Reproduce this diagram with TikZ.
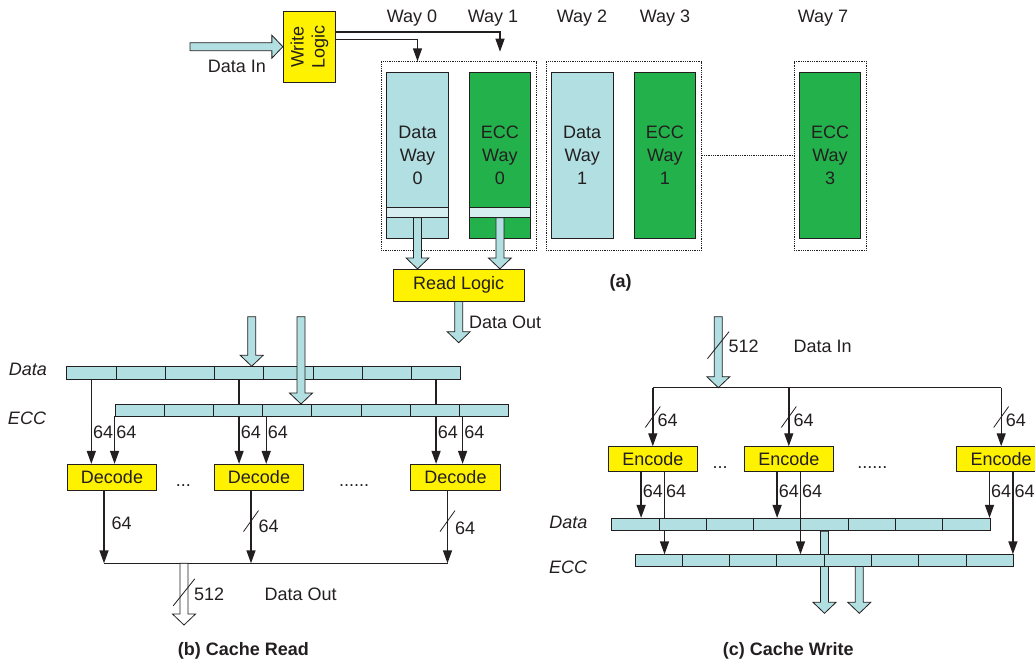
\documentclass[tikz,border=0pt]{standalone}
\usepackage{fontspec}
\setmainfont{Liberation Sans}
\usetikzlibrary{arrows.meta, positioning, calc}
\definecolor{cyanbar}{RGB}{178,223,225}
\definecolor{cyanlite}{RGB}{214,238,240}
\definecolor{greenecc}{RGB}{35,177,75}
\definecolor{yellowlogic}{RGB}{255,242,0}
\definecolor{linegray}{RGB}{35,31,32}

\newcommand{\fatdown}[3][cyanbar]{%
  \path[draw=linegray, fill=#1, line width=0.8pt, line join=miter] let \p1=(#2), \p2=(#3) in
    (\x1-4pt,\y1) -- (\x1-4pt,\y2+11pt) -- (\x1-11.5pt,\y2+11pt) -- (\x1,\y2)
    -- (\x1+11.5pt,\y2+11pt) -- (\x1+4pt,\y2+11pt) -- (\x1+4pt,\y1) -- cycle;}

\begin{document}
\begin{tikzpicture}[x=1pt, y=-1pt, font=\fontsize{18}{21}\selectfont, text=linegray,
    every node/.style={inner sep=1pt},
    waybox/.style={draw=linegray, densely dotted, line width=0.8pt, inner sep=0, minimum height=188.3pt},
    datarect/.style={draw=linegray, fill=cyanbar, line width=0.9pt, minimum width=61.6pt,
        minimum height=165.6pt, align=center, inner sep=0, font=\fontsize{18}{23}\selectfont},
    eccrect/.style={datarect, fill=greenecc},
    logic/.style={draw=linegray, fill=yellowlogic, line width=0.9pt, inner sep=0},
    decbox/.style={logic, minimum width=89.4pt, minimum height=25.7pt},
    cell/.style={draw=linegray, fill=cyanbar, line width=0.9pt, inner sep=0, minimum height=12.3pt},
    arr/.style={draw=linegray, line width=1.4pt, -{Triangle[length=13pt, width=9pt]}},
    wire/.style={draw=linegray, line width=1.2pt},
    lbl/.style={right, inner sep=1pt},
    itlbl/.style={font=\fontsize{18}{21}\selectfont\itshape},
    capt/.style={font=\fontsize{18}{21}\selectfont\bfseries},
    slashmark/.pic={\draw[-, line width=0.8pt, linegray] (-7.5,10.5) -- (7.5,-10.5);},
    bigslash/.pic={\draw[-, line width=0.8pt, linegray] (-10.8,13.5) -- (10.8,-13.5);}]
    \useasboundingbox (0,0) rectangle (1035,662);

    % (a)
    \node[waybox, minimum width=155.7pt] (bx1) at (458.85,155.85) {};
    \node[waybox, minimum width=155.7pt] (bx2) at (623.85,155.85) {};
    \node[waybox, minimum width=72.7pt] (bx3) at (830.35,155.85) {};
    \draw[draw=linegray, densely dotted, line width=0.8pt] (bx2.east) -- (bx3.west);
    \foreach \n/\x/\kind/\txt in {dw0/417.5/datarect/{Data\\Way\\0}, ew0/499.9/eccrect/{ECC\\Way\\0},
        dw1/582.2/datarect/{Data\\Way\\1}, ew1/664.9/eccrect/{ECC\\Way\\1}, ew3/830/eccrect/{ECC\\Way\\3}}
        \node[\kind] (\n) at (\x,155.5) {\txt};
    \node[cell, fill=cyanlite, minimum width=61.6pt, minimum height=10pt] (rs0) at (417.5,212.3) {};
    \node[cell, fill=cyanlite, minimum width=61.6pt, minimum height=10pt] (rs1) at (499.9,212.3) {};
    \foreach \x/\w in {412/0, 493/1, 582/2, 665/3, 823/7}
        \node (way\w) at (\x,18) {Way \w};

    \node[logic, minimum width=52.4pt, minimum height=70.6pt] (wl) at (309.5,47) {};
    \node[rotate=90, align=center, font=\fontsize{18}{21}\selectfont] (wltxt) at (wl.center) {Write\\Logic};
    \coordinate (dinsrc) at (190,46.7);
    \path[draw=linegray, fill=cyanbar, line width=0.8pt] let \p1=(dinsrc), \p2=(wl.west |- dinsrc) in
        (\x1,\y1+4pt) -- (\x2-11pt,\y1+4pt) -- (\x2-11pt,\y1+11.5pt) -- (\x2,\y1)
        -- (\x2-11pt,\y1-11.5pt) -- (\x2-11pt,\y1-4pt) -- (\x1,\y1-4pt) -- cycle;
    \node (dinlbl) at (237,66) {Data In};
    \coordinate (ew0in) at (500,51.7);
    \draw[arr] ([yshift=15pt]wl.east) -| (ew0in);
    \draw[arr] ([yshift=7.7pt]wl.east) -| (dw0.north |- bx1.north);

    \node[logic, minimum width=130.7pt, minimum height=31.7pt] (rl) at (458.7,285.2) {Read Logic};
    \fatdown{rs0.south}{rs0.south |- rl.north}
    \fatdown{rs1.south}{rs1.south |- rl.north}
    \coordinate (rlout) at (458.3,342.7);
    \fatdown{rl.south}{rl.south |- rlout}
    \node[anchor=west] (doutlbl) at (468,322) {Data Out};
    \node[capt] (capa) at (620.7,283) {(a)};

    % (b)
    \node[itlbl] (bdata) at (28,369) {Data};
    \node[itlbl] (becc) at (27,418) {ECC};
    \node[decbox] (dec1) at (112,477.2) {Decode};
    \node[decbox] (dec2) at (259,477.2) {Decode};
    \node[decbox] (dec3) at (455.5,477.2) {Decode};
    \node[anchor=base] (bdots1) at (183.3,486.5) {...};
    \node[anchor=base] (bdots2) at (354,486.5) {......};
    \foreach \i in {1,...,8} {
        \pgfmathsetmacro{\x}{66.7+(\i-0.5)*49.25}
        \node[cell, minimum width=49.25pt] (dd\i) at (\x,372.85) {};
    }
    \foreach \c/\d in {1/1, 4/2, 8/3}
        \draw[arr] (dd\c.south) -- node[lbl, pos=0.62] (bdl\d) {64} (dd\c.south |- dec\d.north);
    \coordinate (rdA) at (251.7,316.7);
    \coordinate (rdB) at (301,316.7);
    \coordinate (rdBend) at (301,404);
    \fatdown{rdA}{rdA |- dd4.north}
    \fatdown{rdB}{rdBend}
    \foreach \i in {1,...,8} {
        \pgfmathsetmacro{\x}{115+(\i-0.5)*49.22}
        \node[cell, minimum width=49.22pt, minimum height=12pt] (ee\i) at (\x,410) {};
    }
    \foreach \c/\s/\d in {1/0/1, 4/4/2, 8/3.5/3}
        \draw[arr] ([xshift=\s pt]ee\c.south west) -- node[lbl, pos=0.33] (bel\d) {64}
            ([xshift=\s pt]ee\c.south west |- dec\d.north);

    \coordinate (rbus) at (184,563.3);
    \coordinate (rbusout) at (184,625);
    \draw[arr] ([xshift=-8pt]dec1.south) -- node[lbl, pos=0.45, xshift=6pt] (bo1) {64} ([xshift=-8pt]dec1.south |- rbus);
    \draw[arr] ([xshift=-8pt]dec2.south) -- pic[pos=0.42]{slashmark} node[lbl, pos=0.49, xshift=6pt] (bo2) {64} ([xshift=-8pt]dec2.south |- rbus);
    \draw[arr] ([xshift=-8pt]dec3.south) -- pic[pos=0.42]{slashmark} node[lbl, pos=0.52, xshift=6pt] (bo3) {64} ([xshift=-8pt]dec3.south |- rbus);
    \draw[wire] ([xshift=-8pt]dec1.south |- rbus) -- ([xshift=-8pt]dec3.south |- rbus);
    \fatdown[white]{rbus}{rbusout}
    \path (rbus) -- pic[pos=0.47]{bigslash} node[lbl, pos=0.5, xshift=9pt] (b512) {512} (rbusout);
    \node (boutlbl) at (300.7,594) {Data Out};
    \node[capt] (capb) at (243.3,651) {(b) Cache Read};

    % (c)
    \node[itlbl] (cdata) at (568.3,522) {Data};
    \node[itlbl] (cecc) at (568,567) {ECC};
    \node[decbox, minimum width=89pt, minimum height=25pt] (enc1) at (652.8,459.2) {Encode};
    \node[decbox, minimum width=89pt, minimum height=25pt] (enc2) at (788.8,459.2) {Encode};
    \node[decbox, minimum width=89pt, minimum height=25pt] (enc3) at (1001.2,459.2) {Encode};
    \node[anchor=base] (cdots1) at (720,468.3) {...};
    \node[anchor=base] (cdots2) at (872.3,468.3) {......};
    \coordinate (wdin) at (718.3,316.7);
    \coordinate (wbus) at (718.3,387.7);
    \fatdown{wdin}{wbus}
    \path (wdin) -- pic[pos=0.4]{bigslash} node[lbl, pos=0.41, xshift=9pt] (w512) {512} (wbus);
    \node (winlbl) at (822.7,346) {Data In};
    \draw[wire] (enc1.north |- wbus) -- (enc3.north |- wbus);
    \foreach \i in {1,2,3}
        \draw[arr] (enc\i.north |- wbus) -- pic[pos=0.5]{slashmark} node[lbl, pos=0.55, xshift=3pt] (wil\i) {64} (enc\i.north);

    \coordinate (wecctop) at (635,554.3);
    \foreach \i in {1,2,3}
        \draw[arr] ([xshift=11.7pt]enc\i.south) -- node[lbl, pos=0.23] (woe\i) {64} ([xshift=11.7pt]enc\i.south |- wecctop);
    \foreach \i in {1,...,8} {
        \pgfmathsetmacro{\x}{611.7+(\i-0.5)*47.29}
        \node[cell, minimum width=47.29pt] (wd\i) at (\x,524.5) {};
    }
    \foreach \i in {1,2,3}
        \draw[arr] ([xshift=-11.7pt]enc\i.south) -- node[lbl, pos=0.41] (wod\i) {64} ([xshift=-11.7pt]enc\i.south |- wd1.north);
    \coordinate (wout) at (824.3,613.3);
    \fatdown{wd5.south}{wd5.south |- wout}
    \foreach \i in {1,...,8} {
        \pgfmathsetmacro{\x}{635+(\i-0.5)*47.29}
        \node[cell, minimum width=47.29pt, minimum height=11.7pt] (we\i) at (\x,560.15) {};
    }
    \fatdown{[xshift=11.5pt]we5.south}{[xshift=11.5pt]we5.south |- wout}
    \node[capt] (capc) at (788.3,651) {(c) Cache Write};
\end{tikzpicture}
\end{document}
